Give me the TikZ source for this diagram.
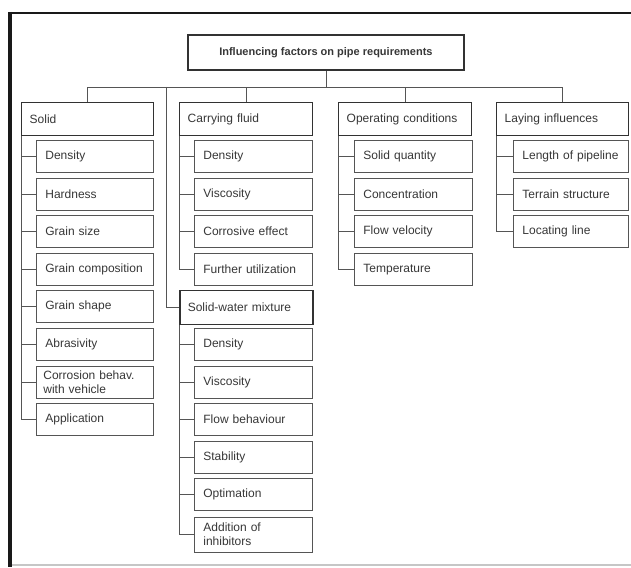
\documentclass[tikz,border=0pt]{standalone}
\usepackage{fontspec}
\setmainfont{Liberation Sans}
\definecolor{txt}{RGB}{55,55,55}
\definecolor{boxc}{RGB}{50,50,50}
\definecolor{itemc}{RGB}{85,85,85}
\definecolor{connc}{RGB}{85,85,85}
\begin{document}
\begin{tikzpicture}[x=1pt,y=-1pt,
  base/.style={draw=boxc, anchor=north west, inner ysep=0pt, align=left,
    font=\fontsize{12}{13.5}\selectfont, text=txt},
  catbox/.style={base, line width=1.4pt, minimum height=33pt, inner xsep=8pt},
  itembox/.style={base, draw=itemc, line width=0.8pt, minimum height=32pt, inner xsep=9pt},
  conn/.style={draw=connc, line width=0.8pt},
  wa/.style={text width=99pt},
  wb/.style={text width=100pt},
  wc/.style={text width=97pt},
  ca/.style={text width=116pt},
  cb/.style={text width=117pt}]
\useasboundingbox (0,0) rectangle (631,567);
\fill[white] (0,0) rectangle (631,567);
% frame
\draw[line width=3.5pt, black!90] (10,12) -- (10,567);
\draw[line width=2.6pt, black!90] (8.5,13) -- (631,13);
\draw[line width=1.5pt, gray!45] (12,565) -- (631,565);
% root
\node[base, line width=1.8pt, minimum width=276pt, minimum height=35pt, inner xsep=0pt,
  align=center, font=\fontsize{11}{12}\bfseries] (root) at (187,34) {Influencing factors on pipe requirements};
% categories
\node[catbox, ca] (sol) at (21,102) {Solid};
\node[catbox, cb] (cf) at (179,102) {Carrying fluid};
\node[catbox, cb] (op) at (338,102) {Operating conditions};
\node[catbox, ca] (lay) at (496,102) {Laying influences};
% solid items
\node[itembox, wa] (s1) at (36,140) {Density};
\node[itembox, wa] (s2) at (36,177.6) {Hardness};
\node[itembox, wa] (s3) at (36,215.2) {Grain size};
\node[itembox, wa] (s4) at (36,252.8) {Grain composition};
\node[itembox, wa] (s5) at (36,290.4) {Grain shape};
\node[itembox, wa] (s6) at (36,328) {Abrasivity};
\node[itembox, wa, inner xsep=7pt, text width=103pt] (s7) at (36,365.6) {Corrosion behav.\\with vehicle};
\node[itembox, wa] (s8) at (36,403.2) {Application};
% carrying fluid items
\node[itembox, wb] (c1) at (194,140) {Density};
\node[itembox, wb] (c2) at (194,177.6) {Viscosity};
\node[itembox, wb] (c3) at (194,215.2) {Corrosive effect};
\node[itembox, wb] (c4) at (194,252.8) {Further utilization};
% solid-water mixture
\node[catbox, cb, minimum height=34pt, line width=1.6pt] (swm) at (179,289.5) {Solid-water mixture};
\node[itembox, wb] (m1) at (194,328) {Density};
\node[itembox, wb] (m2) at (194,365.6) {Viscosity};
\node[itembox, wb] (m3) at (194,403.2) {Flow behaviour};
\node[itembox, wb] (m4) at (194,440.8) {Stability};
\node[itembox, wb] (m5) at (194,478.4) {Optimation};
\node[itembox, wb, minimum height=35pt] (m6) at (194,516.5) {Addition of\\inhibitors};
% operating items
\node[itembox, wb] (o1) at (354,140) {Solid quantity};
\node[itembox, wb] (o2) at (354,177.6) {Concentration};
\node[itembox, wb] (o3) at (354,215.2) {Flow velocity};
\node[itembox, wb] (o4) at (354,252.8) {Temperature};
% laying items
\node[itembox, wc] (l1) at (513,140) {Length of pipeline};
\node[itembox, wc] (l2) at (513,177.6) {Terrain structure};
\node[itembox, wc] (l3) at (513,215.2) {Locating line};
% tree connectors
\coordinate (bus) at (0,87);
\coordinate (jn) at (166,87);
\draw[conn] (root.south) -- (root.south |- bus);
\draw[conn] (sol.north) |- (lay.north |- bus) -- (lay.north);
\draw[conn] (cf.north) -- (cf.north |- bus);
\draw[conn] (op.north) -- (op.north |- bus);
\draw[conn] (jn) |- (swm.west);
% brackets
\draw[conn] (sol.south west) |- (s8.west);
\foreach \n in {s1,s2,s3,s4,s5,s6,s7} \draw[conn] (\n.west) -- (\n.west -| sol.south west);
\draw[conn] (cf.south west) |- (c4.west);
\foreach \n in {c1,c2,c3} \draw[conn] (\n.west) -- (\n.west -| cf.south west);
\draw[conn] (swm.south west) |- (m6.west);
\foreach \n in {m1,m2,m3,m4,m5} \draw[conn] (\n.west) -- (\n.west -| swm.south west);
\draw[conn] (op.south west) |- (o4.west);
\foreach \n in {o1,o2,o3} \draw[conn] (\n.west) -- (\n.west -| op.south west);
\draw[conn] (lay.south west) |- (l3.west);
\foreach \n in {l1,l2} \draw[conn] (\n.west) -- (\n.west -| lay.south west);
\end{tikzpicture}
\end{document}
